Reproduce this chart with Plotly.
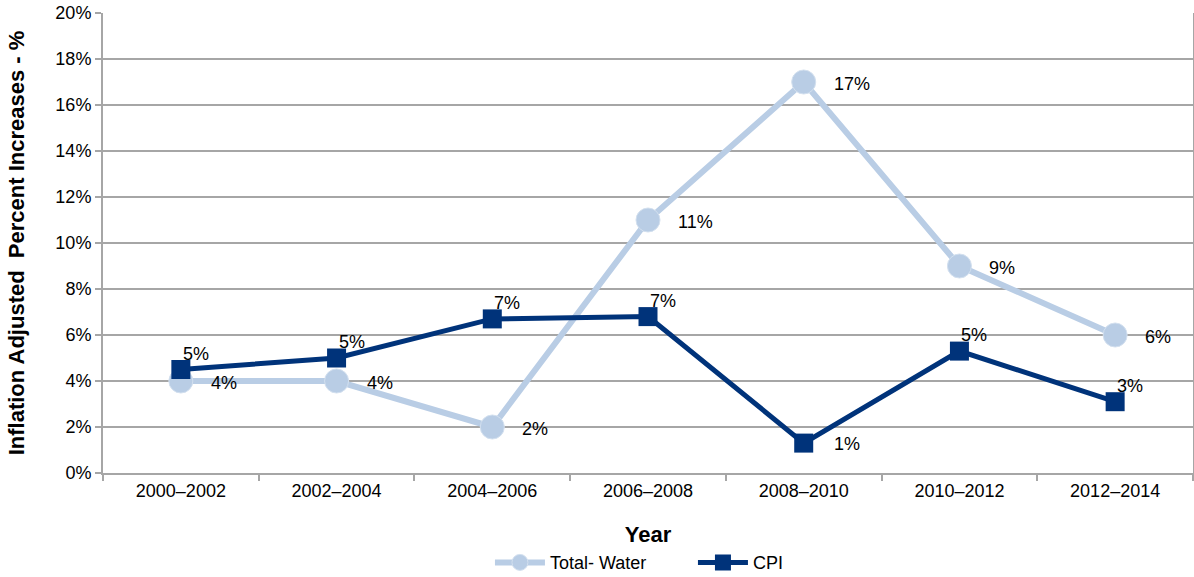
import plotly.graph_objects as go

categories = ["2000–2002", "2002–2004", "2004–2006", "2006–2008", "2008–2010", "2010–2012", "2012–2014"]
water = [4.0, 4.0, 2.0, 11.0, 17.0, 9.0, 6.0]
cpi = [4.5, 5.0, 6.7, 6.8, 1.3, 5.3, 3.1]
water_labels = ["4%", "4%", "2%", "11%", "17%", "9%", "6%"]
cpi_labels = ["5%", "5%", "7%", "7%", "1%", "5%", "3%"]
y_ticks = [0, 2, 4, 6, 8, 10, 12, 14, 16, 18, 20]

WATER_C = "#B9CDE5"
CPI_C = "#00337A"
GRID_C = "#A6A6A6"
FONT = "Liberation Sans, Arial, sans-serif"

fig = go.Figure()
fig.add_trace(go.Scatter(
    x=categories, y=water, name="Total- Water", mode="lines+markers",
    line=dict(color=WATER_C, width=6),
    marker=dict(symbol="circle", size=24, color=WATER_C, line=dict(color="#D3E0EF", width=1)),
))
fig.add_trace(go.Scatter(
    x=categories, y=cpi, name="CPI", mode="lines+markers",
    line=dict(color=CPI_C, width=5),
    marker=dict(symbol="square", size=19, color=CPI_C),
))

annotations = []
for c, v, t in zip(categories, water, water_labels):
    annotations.append(dict(x=c, y=v, text=t, showarrow=False, xanchor="left", yanchor="middle",
                            xshift=28, yshift=-2, font=dict(size=18, color="#000000", family=FONT)))
for i, (c, v, t) in enumerate(zip(categories, cpi, cpi_labels)):
    if i == 4:
        xs, ys = 28, -1
    else:
        xs, ys = 0, 16
    annotations.append(dict(x=c, y=v, text=t, showarrow=False, xanchor="left", yanchor="middle",
                            xshift=xs, yshift=ys, font=dict(size=18, color="#000000", family=FONT)))

fig.update_layout(
    width=1194, height=577,
    margin=dict(l=103, r=1, t=13, b=104, autoexpand=False),
    paper_bgcolor="white", plot_bgcolor="white",
    font=dict(family=FONT, size=18, color="#000000"),
    showlegend=True,
    legend=dict(orientation="h", x=0.355, xanchor="left", y=-0.195, yanchor="middle",
                font=dict(size=18, family=FONT), itemwidth=50, entrywidth=138, entrywidthmode="pixels",
                bgcolor="rgba(0,0,0,0)"),
    annotations=annotations,
)
fig.update_xaxes(
    type="category", range=[-0.5, 6.5], automargin=False,
    showgrid=False, showline=True, linecolor=GRID_C, linewidth=2,
    ticks="outside", tickson="boundaries", ticklen=6, tickcolor=GRID_C, tickwidth=2,
    tickfont=dict(size=18, family=FONT),
    title=dict(text="<b>Year</b>", font=dict(size=22, family=FONT), standoff=27),
)
fig.update_yaxes(
    range=[0, 20], tickvals=y_ticks, ticktext=[f"{v}%" for v in y_ticks], automargin=False,
    showgrid=True, gridcolor=GRID_C, gridwidth=2,
    showline=True, linecolor=GRID_C, linewidth=2, mirror=True,
    ticks="outside", ticklen=6, tickcolor=GRID_C, tickwidth=2,
    tickfont=dict(size=18, family=FONT), zeroline=False,
    title=dict(text="<b>Inflation Adjusted  Percent Increases - %</b>", font=dict(size=22, family=FONT), standoff=25),
)

fig.write_html(
    "out.html",
    config={"displayModeBar": False},
    post_script="document.body.style.margin='0';document.body.style.overflow='hidden';",
)
